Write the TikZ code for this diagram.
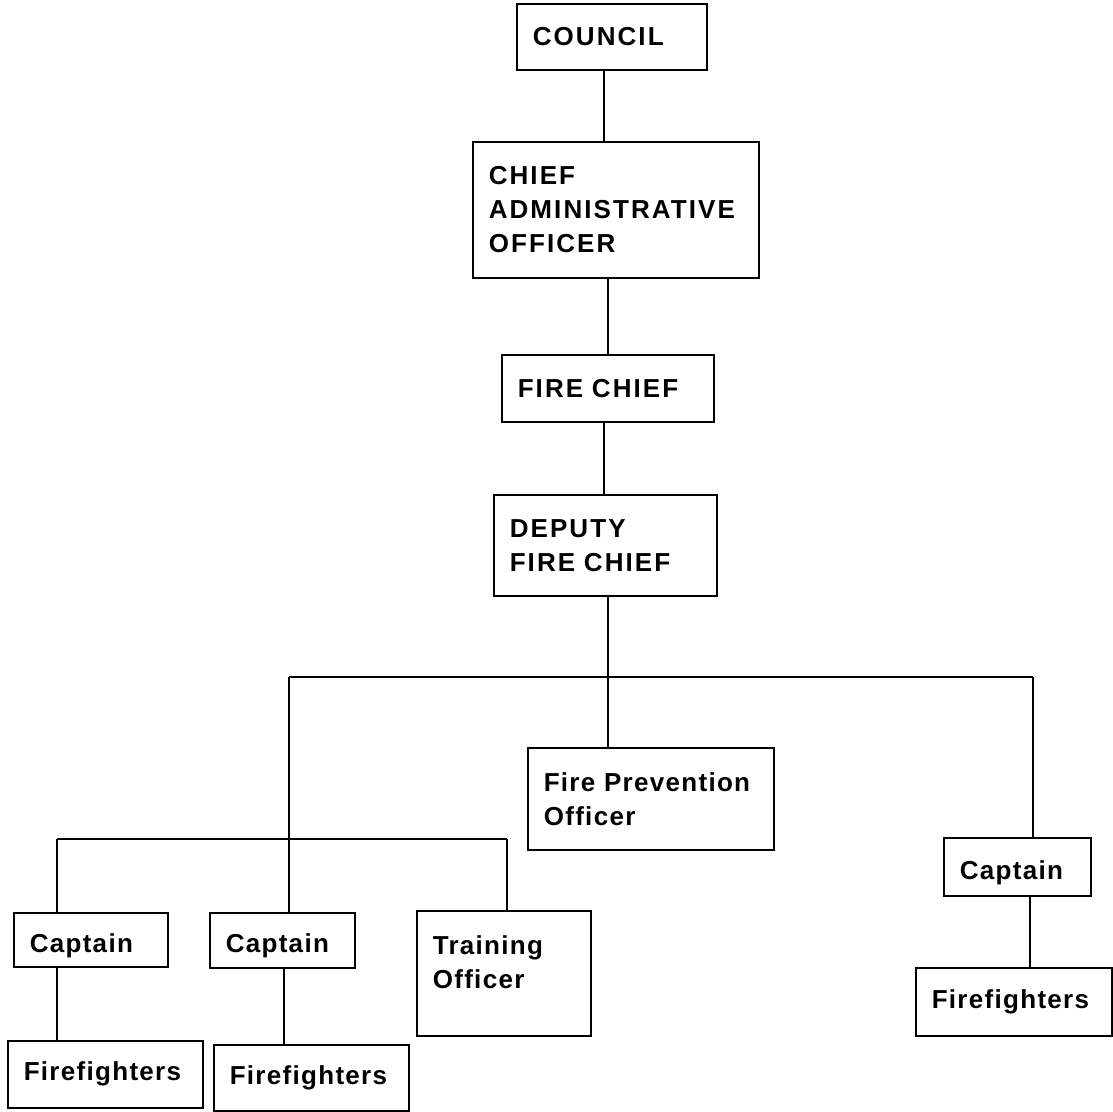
\documentclass[tikz,border=0pt]{standalone}
\usepackage{fontspec}
\setmainfont{Liberation Sans}
\newfontfamily\orgfont[LetterSpace=5]{Liberation Sans}
\newfontfamily\headfont[LetterSpace=8]{Liberation Sans}
\usepackage{tikz}
\usetikzlibrary{positioning, calc}

\begin{document}
\begin{tikzpicture}[x=1pt, y=-1pt,
  unit/.style={rectangle, draw=black, line width=1.6pt, anchor=north west,
    align=left, inner xsep=16pt, inner ysep=0pt,
    font=\orgfont\bfseries\fontsize{26}{34}\selectfont},
  head/.style={unit, font=\headfont\bfseries\fontsize{26}{34}\selectfont},
  link/.style={line width=1.6pt}
]
\useasboundingbox (0,0) rectangle (1112,1112);

% Top chain
\node[head, text width=158pt, minimum height=66pt]  (council) at (516,3)   {COUNCIL};
\node[head, text width=254pt, minimum height=136pt] (cao)     at (472,141) {CHIEF\\ADMINISTRATIVE\\OFFICER};
\node[head, text width=180pt, minimum height=67pt]  (chief)   at (501,354) {FIRE~CHIEF};
\node[head, text width=191pt, minimum height=101pt] (deputy)  at (493,494) {DEPUTY\\FIRE~CHIEF};

% Second level
\node[unit, text width=214pt, minimum height=102pt] (prev)  at (527,747) {Fire~Prevention\\Officer};
\node[unit, text width=115pt, minimum height=58pt]  (capC)  at (943,837) {\rule{0pt}{30pt}Captain};

% Third level
\node[unit, text width=122pt, minimum height=54pt]  (capA)  at (13,912)  {\rule{0pt}{30pt}Captain};
\node[unit, text width=113pt, minimum height=55pt]  (capB)  at (209,912) {\rule{0pt}{30pt}Captain};
\node[unit, text width=142pt, minimum height=125pt] (train) at (416,910) {Training\\Officer\rule[-22pt]{0pt}{22pt}};

% Firefighters
\node[unit, text width=163pt, minimum height=67pt] (ffA) at (7,1040)   {Firefighters};
\node[unit, text width=163pt, minimum height=66pt] (ffB) at (213,1044) {Firefighters};
\node[unit, text width=164pt, minimum height=68pt] (ffC) at (915,967)  {Firefighters};

% Junctions
\coordinate (busL) at (289,677);
\coordinate (busR) at (1033,677);
\coordinate (subL) at (57,839);
\coordinate (subR) at (507,839);
\coordinate (hub)  at ([xshift=2.5pt]deputy.south |- busL);

% Connectors
\draw[link] ([xshift=-8pt]council.south) -- ([xshift=-8pt]council.south |- cao.north);
\draw[link] ([xshift=-8pt]cao.south) -- ([xshift=-8pt]cao.south |- chief.north);
\draw[link] ([xshift=-4pt]chief.south) -- ([xshift=-4pt]chief.south |- deputy.north);
\draw[link] ([xshift=2.5pt]deputy.south) -- (hub);
\draw[link] (busL) -- (busR);
\draw[link] (hub) -- (hub |- prev.north);
\draw[link] (busR) -- (busR |- capC.north);
\draw[link] (busL) -- (busL |- capB.north);
\draw[link] (subL) -- (subR);
\draw[link] (subL) -- (subL |- capA.north);
\draw[link] (subR) -- (subR |- train.north);
\draw[link] (subL |- capA.south) -- (subL |- ffA.north);
\draw[link] ([xshift=1.5pt]capB.south) -- ([xshift=1.5pt]capB.south |- ffB.north);
\draw[link] ([xshift=12.5pt]capC.south) -- ([xshift=12.5pt]capC.south |- ffC.north);
\end{tikzpicture}
\end{document}
